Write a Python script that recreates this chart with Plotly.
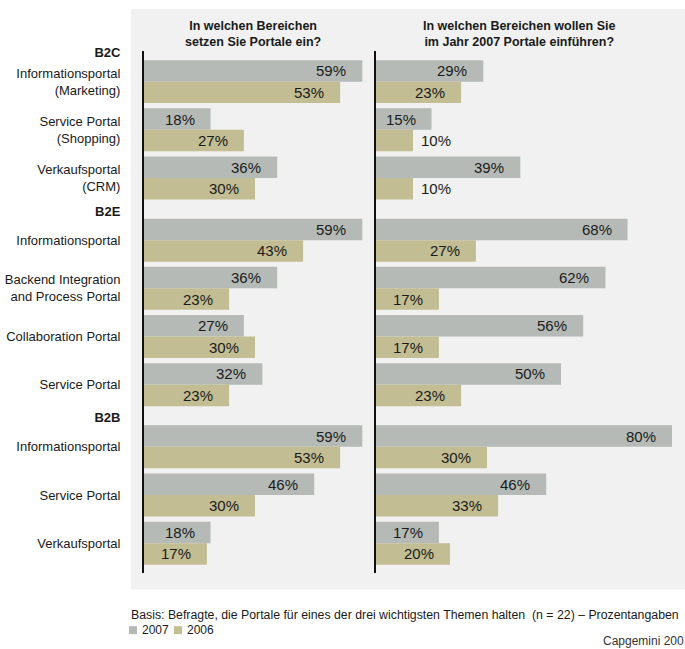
import plotly.graph_objects as go

# Survey data (percent of respondents)
sections = ["B2C", "B2E", "B2B"]
categories = [
    ["Informationsportal<br>(Marketing)", "Service Portal<br>(Shopping)", "Verkaufsportal<br>(CRM)"],
    ["Informationsportal", "Backend Integration<br>and Process Portal", "Collaboration Portal", "Service Portal"],
    ["Informationsportal", "Service Portal", "Verkaufsportal"],
]
# Left panel: "In welchen Bereichen setzen Sie Portale ein?"
use_2007 = [59, 18, 36, 59, 36, 27, 32, 59, 46, 18]
use_2006 = [53, 27, 30, 43, 23, 30, 23, 53, 30, 17]
# Right panel: "In welchen Bereichen wollen Sie im Jahr 2007 Portale einführen?"
plan_2007 = [29, 15, 39, 68, 62, 56, 50, 80, 46, 17]
plan_2006 = [23, 10, 10, 27, 17, 17, 23, 30, 33, 20]

panel_titles = [
    "In welchen Bereichen<br>setzen Sie Portale ein?",
    "In welchen Bereichen wollen Sie<br>im Jahr 2007 Portale einführen?",
]
series_names = ["2007", "2006"]
footnote = "Basis: Befragte, die Portale für eines der drei wichtigsten Themen halten  (n = 22) – Prozentangaben"
source = "Capgemini 200"

C2007 = "#b5bab7"
C2006 = "#c2bd93"
BG = "#f0f1f0"
TXT = "#1a1a1a"
FONT = "Liberation Sans, Arial, sans-serif"

W, H = 685, 649

# Row layout: one unit per category, extra gap before each new section
row_pos, tickvals, ticktext = [], [], []
pos = 0.0
for si, (sec, cats) in enumerate(zip(sections, categories)):
    if si > 0:
        pos += 1.29
    tickvals.append(pos - 0.6)
    ticktext.append(f"<b>{sec}</b>")
    for j, c in enumerate(cats):
        if j > 0:
            pos += 1
        row_pos.append(pos)
        tickvals.append(pos)
        ticktext.append(c)

BAR_W = 0.446
yrange = [10.19, -0.643]

# pixel geometry of the two panels
px_per_pct = 3.7
left_x0, left_x1 = 144, 370
right_x0, right_x1 = 376, 685
plot_top, plot_bot = 46, 572

fig = go.Figure()

panels = [
    ("x", "y", use_2007, use_2006),
    ("x2", "y2", plan_2007, plan_2006),
]
for xa, ya, v07, v06 in panels:
    fig.add_trace(go.Bar(y=row_pos, x=v07, orientation="h", name=series_names[0],
                         marker=dict(color=C2007, line_width=0), width=BAR_W,
                         offset=-BAR_W, xaxis=xa, yaxis=ya, showlegend=False,
                         hoverinfo="skip"))
    fig.add_trace(go.Bar(y=row_pos, x=v06, orientation="h", name=series_names[1],
                         marker=dict(color=C2006, line_width=0), width=BAR_W,
                         offset=0, xaxis=xa, yaxis=ya, showlegend=False,
                         hoverinfo="skip"))

# value labels at the bar ends
annotations = []
for xa, ya, v07, v06 in panels:
    for vals, dy in ((v07, -BAR_W / 2), (v06, BAR_W / 2)):
        for y, v in zip(row_pos, vals):
            inside = v * px_per_pct >= 48
            annotations.append(dict(
                x=v, y=y + dy, xref=xa, yref=ya, text=f"{v}%", showarrow=False,
                xanchor="right" if inside else "left",
                xshift=-14 if inside else 6,
                yanchor="middle", font=dict(size=15, color=TXT, family=FONT)))

# panel titles
for title, cx in zip(panel_titles, (253, 519)):
    annotations.append(dict(x=cx / W, y=1 - 29 / H, xref="paper", yref="paper",
                            text=f"<b>{title}</b>", showarrow=False,
                            xanchor="center", yanchor="middle",
                            font=dict(size=12.5, color=TXT, family=FONT)))

# footnote, legend and source
annotations.append(dict(x=129 / W, y=1 - 615 / H, xref="paper", yref="paper",
                        text=footnote, showarrow=False, xanchor="left",
                        yanchor="middle", font=dict(size=12.3, color=TXT, family=FONT)))
legend_items = [(129, C2007, series_names[0]), (174, C2006, series_names[1])]
shapes = [dict(type="rect", xref="paper", yref="paper", x0=131 / W, x1=1.0,
               y0=1 - 589 / H, y1=1 - 4 / H, fillcolor=BG, line_width=0, layer="below")]
for lx, col, name in legend_items:
    shapes.append(dict(type="rect", xref="paper", yref="paper",
                       x0=lx / W, x1=(lx + 8) / W, y0=1 - 634 / H, y1=1 - 626 / H,
                       fillcolor=col, line_width=0))
    annotations.append(dict(x=(lx + 11) / W, y=1 - 630 / H, xref="paper", yref="paper",
                            text=name, showarrow=False, xanchor="left", yanchor="middle",
                            font=dict(size=12, color=TXT, family=FONT)))
annotations.append(dict(x=601 / W, y=1 - 641 / H, xref="paper", yref="paper",
                        text=source, showarrow=False, xanchor="left", yanchor="middle",
                        font=dict(size=12, color="#333333", family=FONT)))

ydom = [1 - plot_bot / H, 1 - plot_top / H]
fig.update_layout(
    width=W, height=H,
    margin=dict(l=0, r=0, t=0, b=0),
    paper_bgcolor="white", plot_bgcolor="rgba(0,0,0,0)",
    barmode="overlay",
    font=dict(family=FONT, color=TXT),
    xaxis=dict(domain=[left_x0 / W, left_x1 / W],
               range=[0, (left_x1 - left_x0) / px_per_pct],
               visible=False, fixedrange=True),
    xaxis2=dict(domain=[right_x0 / W, right_x1 / W],
                range=[0, (right_x1 - right_x0) / px_per_pct],
                visible=False, fixedrange=True),
    yaxis=dict(domain=ydom, range=yrange, anchor="x",
               tickvals=tickvals, ticktext=ticktext, ticks="",
               ticklabelstandoff=19, showgrid=False, zeroline=False,
               showline=True, linecolor="#111111", linewidth=2,
               tickfont=dict(size=13, color=TXT, family=FONT)),
    yaxis2=dict(domain=ydom, range=yrange, anchor="x2", matches="y",
                showticklabels=False, ticks="", showgrid=False, zeroline=False,
                showline=True, linecolor="#111111", linewidth=2),
    annotations=annotations,
    shapes=shapes,
)

fig.write_html("out.html")
